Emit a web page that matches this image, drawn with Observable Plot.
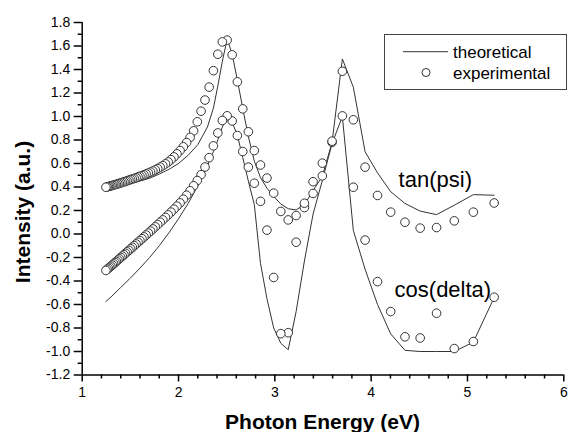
<!DOCTYPE html>
<html><head><meta charset="utf-8">
<script src="https://cdn.jsdelivr.net/npm/d3@7"></script>
<script src="https://cdn.jsdelivr.net/npm/@observablehq/plot@0.6"></script>
<style>html,body{margin:0;padding:0;background:#fff;} #chart svg{display:block}</style>
</head><body><div id="chart"></div>
<script>
// Photon energies of the measured points (eV)
const energy = [1.246,1.259,1.272,1.285,1.298,1.312,1.326,1.341,1.355,1.370,1.385,1.401,1.417,1.434,1.450,1.467,1.485,1.503,1.521,1.540,1.560,1.580,1.600,1.621,1.642,1.664,1.687,1.710,1.734,1.759,1.784,1.810,1.837,1.865,1.893,1.922,1.953,1.984,2.016,2.050,2.084,2.120,2.157,2.195,2.234,2.275,2.318,2.362,2.408,2.455,2.505,2.557,2.611,2.667,2.725,2.787,2.851,2.918,2.988,3.062,3.139,3.221,3.307,3.397,3.493,3.594,3.701,3.815,3.937,4.066,4.203,4.351,4.509,4.679,4.863,5.061,5.277];
// experimental tan(psi)
const tanExp = [0.398,0.401,0.404,0.407,0.410,0.413,0.416,0.420,0.423,0.427,0.431,0.435,0.439,0.444,0.448,0.453,0.458,0.463,0.468,0.473,0.479,0.485,0.491,0.497,0.504,0.511,0.519,0.527,0.536,0.546,0.557,0.569,0.582,0.597,0.613,0.633,0.656,0.682,0.710,0.742,0.778,0.822,0.878,0.955,1.045,1.14,1.25,1.39,1.53,1.635,1.65,1.525,1.295,1.065,0.87,0.71,0.587,0.476,0.348,0.192,0.12,0.157,0.262,0.445,0.603,0.79,1.385,0.972,0.569,0.328,0.186,0.10,0.05,0.055,0.112,0.186,0.264];
// experimental cos(delta)
const cosExp = [-0.310,-0.301,-0.292,-0.283,-0.274,-0.264,-0.254,-0.243,-0.233,-0.222,-0.211,-0.200,-0.188,-0.176,-0.164,-0.152,-0.139,-0.126,-0.113,-0.099,-0.085,-0.070,-0.056,-0.040,-0.025,-0.009,0.008,0.025,0.043,0.061,0.080,0.100,0.120,0.141,0.163,0.186,0.211,0.237,0.265,0.296,0.330,0.368,0.410,0.455,0.505,0.570,0.650,0.750,0.860,0.966,1.006,0.962,0.838,0.702,0.569,0.432,0.278,0.033,-0.37,-0.848,-0.84,-0.07,0.225,0.345,0.495,0.78,1.005,0.398,-0.052,-0.405,-0.66,-0.875,-0.885,-0.674,-0.975,-0.915,-0.538];
// theoretical curves
const theoryEnergy = [1.246,1.30,1.40,1.50,1.60,1.70,1.80,1.90,2.00,2.10,2.20,2.30,2.362,2.408,2.455,2.505,2.557,2.611,2.667,2.725,2.787,2.851,2.918,2.988,3.062,3.139,3.221,3.307,3.397,3.493,3.594,3.701,3.815,3.937,4.066,4.203,4.351,4.509,4.679,4.863,5.061,5.277];
const tanTheory = [0.385,0.395,0.41,0.43,0.45,0.475,0.51,0.55,0.60,0.67,0.76,0.91,1.07,1.26,1.47,1.66,1.53,1.31,1.07,0.83,0.62,0.48,0.39,0.32,0.255,0.215,0.205,0.25,0.37,0.49,0.78,1.49,1.25,0.70,0.52,0.36,0.26,0.195,0.165,0.245,0.335,0.33];
const cosTheory = [-0.575,-0.535,-0.455,-0.375,-0.29,-0.20,-0.10,0.01,0.13,0.26,0.41,0.58,0.70,0.80,0.91,1.00,0.95,0.84,0.65,0.45,0.25,-0.25,-0.55,-0.80,-0.93,-0.985,-0.66,-0.23,0.17,0.455,0.77,1.00,0.03,-0.30,-0.60,-0.85,-0.99,-1.0,-1.0,-1.0,-0.92,-0.54];

const xTicks = [1,2,3,4,5,6];
const xMinorTicks = [1.2,1.4,1.6,1.8,2.2,2.4,2.6,2.8,3.2,3.4,3.6,3.8,4.2,4.4,4.6,4.8,5.2,5.4,5.6,5.8];
const yTicks = [-1.2,-1.0,-0.8,-0.6,-0.4,-0.2,0,0.2,0.4,0.6,0.8,1.0,1.2,1.4,1.6,1.8];
const yMinorTicks = [-1.1,-0.9,-0.7,-0.5,-0.3,-0.1,0.1,0.3,0.5,0.7,0.9,1.1,1.3,1.5,1.7];
const curveLabels = ["tan(psi)", "cos(delta)"];
const curveLabelX = [4.285, 4.243];
const curveLabelY = [0.398, -0.538];

const expRows = [];
for (let i = energy.length - 1; i >= 0; i--) {
  expRows.push({e: energy[i], v: cosExp[i]});
  expRows.push({e: energy[i], v: tanExp[i]});
}
const tanRows = theoryEnergy.map((e, i) => ({e, v: tanTheory[i]}));
const cosRows = theoryEnergy.map((e, i) => ({e, v: cosTheory[i]}));
const labelRows = curveLabels.map((t, i) => ({t, x: curveLabelX[i], y: curveLabelY[i]}));

const W = 570, H = 432;
const chart = Plot.plot({
  width: W, height: H,
  marginLeft: 81.7, marginRight: 6.7, marginTop: 22, marginBottom: 57.5,
  x: {domain: [1, 6]},
  y: {domain: [-1.2, 1.8]},
  style: {fontFamily: "'Liberation Sans', Arial, sans-serif", fontSize: "14px", color: "#000", background: "#fff"},
  marks: [
    Plot.line(tanRows, {x: "e", y: "v", stroke: "#333", strokeWidth: 1}),
    Plot.line(cosRows, {x: "e", y: "v", stroke: "#333", strokeWidth: 1}),
    Plot.dot(expRows, {x: "e", y: "v", r: 4.3, stroke: "#333", fill: "white", strokeWidth: 1}),
    Plot.text(labelRows, {x: "x", y: "y", text: "t", textAnchor: "start", lineAnchor: "bottom", fontSize: 22, fill: "#000"}),
    Plot.ruleX([1], {stroke: "#000", strokeWidth: 1.5}),
    Plot.ruleY([-1.2], {stroke: "#000", strokeWidth: 1.5}),
    Plot.axisY({ticks: yTicks, tickSize: 8, tickPadding: 4, tickFormat: d => d.toFixed(1), label: null, strokeWidth: 1.5, fontSize: 14}),
    Plot.axisY({ticks: yMinorTicks, tickSize: 4, tickFormat: () => "", label: null, strokeWidth: 1.5}),
    Plot.axisX({ticks: xTicks, tickSize: 7, tickPadding: 5, tickFormat: d => String(d), label: null, strokeWidth: 1.5, fontSize: 14}),
    Plot.axisX({ticks: xMinorTicks, tickSize: 4, tickFormat: () => "", label: null, strokeWidth: 1.5})
  ]
});
document.getElementById("chart").appendChild(chart);

const svg = d3.select(chart);
const font = "'Liberation Sans', Arial, sans-serif";
svg.append("text").text("Photon Energy (eV)")
  .attr("x", 322.5).attr("y", 429).attr("text-anchor", "middle")
  .attr("font-family", font).attr("font-weight", "bold").attr("font-size", 21).attr("fill", "#000");
svg.append("text").text("Intensity (a.u.)")
  .attr("transform", "translate(30,212) rotate(-90)").attr("text-anchor", "middle")
  .attr("font-family", font).attr("font-weight", "bold").attr("font-size", 21).attr("fill", "#000");

// legend
const lg = svg.append("g").attr("text-anchor", "start");
lg.append("rect").attr("x", 384.5).attr("y", 34.5).attr("width", 182).attr("height", 55)
  .attr("fill", "white").attr("stroke", "#444").attr("stroke-width", 1);
lg.append("line").attr("x1", 403).attr("x2", 448).attr("y1", 51.7).attr("y2", 51.7)
  .attr("stroke", "#333").attr("stroke-width", 1);
lg.append("circle").attr("cx", 426).attr("cy", 72.5).attr("r", 4)
  .attr("fill", "white").attr("stroke", "#333").attr("stroke-width", 1);
lg.append("text").text("theoretical").attr("x", 453).attr("y", 57.5).attr("text-anchor", "start")
  .attr("font-family", font).attr("font-size", 17).attr("fill", "#000");
lg.append("text").text("experimental").attr("x", 453).attr("y", 79).attr("text-anchor", "start")
  .attr("font-family", font).attr("font-size", 17).attr("fill", "#000");
</script></body></html>
